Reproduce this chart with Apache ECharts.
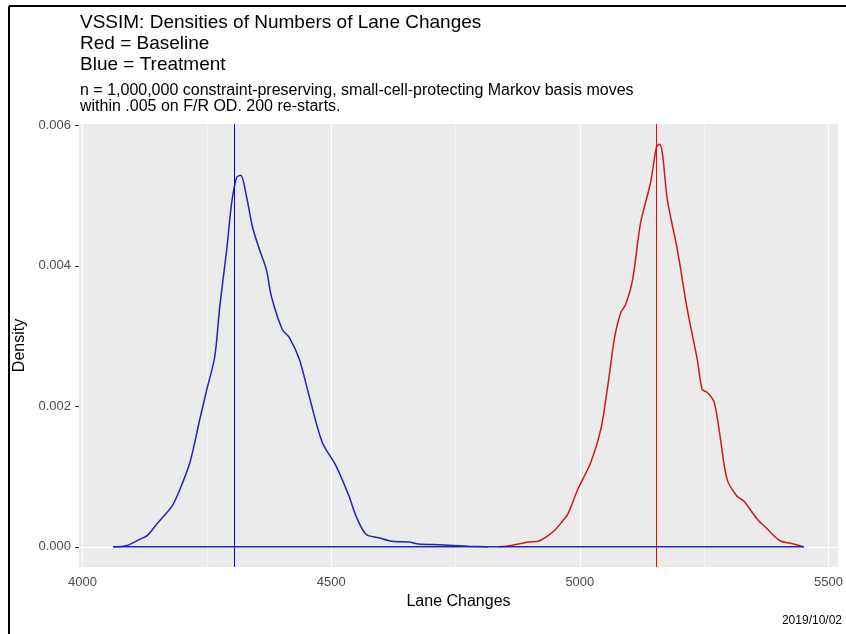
<!DOCTYPE html>
<html lang="en">
<head>
    <meta charset="UTF-8">
    <title>VSSIM lane change densities</title>
    <script src="https://cdn.jsdelivr.net/npm/echarts@6.0.0/dist/echarts.min.js"></script>
    <style>
        html, body { margin: 0; padding: 0; background: #fff; }
        #chart { width: 846px; height: 634px; }
    </style>
</head>
<body>
    <div id="chart"></div>
    <script>
        // treatment (blue) density
        const blueX = [4062, 4090, 4116, 4130, 4150, 4180, 4196, 4216, 4236, 4250, 4266, 4276, 4290, 4300, 4310, 4318,
            4330, 4342, 4356, 4370, 4380, 4402, 4416, 4436, 4456, 4482, 4510, 4536, 4550, 4570, 4596, 4622, 4656,
            4676, 4716, 4776, 4816]
        const blueY = [0, 0.00002, 0.00011, 0.00016, 0.00033, 0.00058, 0.00082, 0.0012, 0.00182, 0.00224, 0.00271, 0.00342, 0.00423, 0.0049, 0.00526, 0.00529,
            0.00498, 0.00455, 0.00423, 0.00394, 0.00356, 0.00309, 0.00298, 0.00267, 0.00214, 0.00149, 0.00115, 0.00072, 0.00044, 0.00018, 0.00013, 0.00008, 0.00007,
            0.00004, 0.00003, 0.00001, 0]

        // baseline (red) density
        const redX = [4836, 4862, 4896, 4916, 4936, 4950, 4962, 4976, 4996, 5022, 5042, 5056, 5070, 5082, 5092, 5106, 5122,
            5142, 5154, 5160, 5166, 5176, 5196, 5216, 5236, 5246, 5256, 5270, 5282, 5296, 5316, 5330, 5356, 5376,
            5402, 5430, 5450]
        const redY = [0, 0.00002, 0.00007, 0.00008, 0.00016, 0.00024, 0.00034, 0.00047, 0.00082, 0.0012, 0.00167, 0.00228, 0.00299, 0.00333, 0.00345, 0.0038, 0.00461,
            0.00518, 0.00569, 0.00573, 0.0056, 0.00494, 0.00423, 0.00338, 0.00267, 0.00224, 0.0022, 0.00206, 0.00157, 0.00096, 0.00072, 0.00065, 0.0004, 0.00026,
            0.00009, 0.00004, 0]

        // zero line under both curves and the two mean lines
        const baseX = [4062, 5450]
        const blueMean = 4306
        const redMean = 5154

        const xTicks = [4000, 4500, 5000, 5500]
        const xMinor = [4250, 4750, 5250]
        const yTicks = [0, 0.002, 0.004, 0.006]
        const yMinor = [0.001, 0.003, 0.005]

        const font = 'Liberation Sans'
        const toPairs = (xs, ys) => xs.map((x, i) => [x, ys[i]])

        // white panel grid, major a bit thicker than minor
        const gridLines = []
        xTicks.forEach(v => gridLines.push({ xAxis: v, lineStyle: { color: '#fff', width: 1.1 } }))
        xMinor.forEach(v => gridLines.push({ xAxis: v, lineStyle: { color: '#fff', width: 0.5 } }))
        yTicks.forEach(v => gridLines.push({ yAxis: v, lineStyle: { color: '#fff', width: 1.1 } }))
        yMinor.forEach(v => gridLines.push({ yAxis: v, lineStyle: { color: '#fff', width: 0.5 } }))

        var myChart = echarts.init(document.getElementById('chart'), null, { renderer: 'canvas' })
        var option = {
            animation: false,
            backgroundColor: '#fff',
            textStyle: { fontFamily: font },
            title: {
                text: 'VSSIM: Densities of Numbers of Lane Changes\nRed = Baseline\nBlue = Treatment',
                subtext: 'n = 1,000,000 constraint-preserving, small-cell-protecting Markov basis moves\nwithin .005 on F/R OD. 200 re-starts.',
                left: 80,
                top: 12,
                padding: 0,
                itemGap: 8,
                textStyle: { fontFamily: font, fontSize: 19, fontWeight: 'normal', color: '#000', lineHeight: 21 },
                subtextStyle: { fontFamily: font, fontSize: 16, color: '#000', lineHeight: 15.5 }
            },
            grid: {
                left: 79, right: 4, top: 124, bottom: 67,
                show: true, backgroundColor: '#EBEBEB', borderWidth: 0
            },
            xAxis: {
                type: 'value',
                min: 3993, max: 5519,
                name: 'Lane Changes',
                nameLocation: 'middle',
                nameGap: 25,
                nameTextStyle: { fontFamily: font, fontSize: 16, color: '#000' },
                axisLine: { show: false },
                axisTick: { show: true, customValues: xTicks, length: 4, lineStyle: { color: '#333' } },
                axisLabel: { customValues: xTicks, margin: 9, fontFamily: font, fontSize: 13, color: '#4D4D4D',
                    formatter: v => String(v) },
                splitLine: { show: false }
            },
            yAxis: {
                type: 'value',
                min: -0.000287, max: 0.00602,
                name: 'Density',
                nameLocation: 'middle',
                nameGap: 43,
                nameTextStyle: { fontFamily: font, fontSize: 16, color: '#000' },
                axisLine: { show: false },
                axisTick: { show: true, customValues: yTicks, length: 4, lineStyle: { color: '#333' } },
                axisLabel: { customValues: yTicks, margin: 8, fontFamily: font, fontSize: 13, color: '#4D4D4D',
                    formatter: v => v.toFixed(3) },
                splitLine: { show: false }
            },
            series: [
                {
                    // panel grid lines
                    type: 'line', data: [], silent: true, z: 1,
                    markLine: {
                        silent: true, symbol: 'none', label: { show: false }, animation: false, z: 1,
                        lineStyle: { color: '#fff', type: 'solid' },
                        data: gridLines
                    }
                },
                {
                    name: 'Baseline', type: 'line', z: 3,
                    data: toPairs(redX, redY),
                    showSymbol: false, smooth: 0.3,
                    itemStyle: { color: '#cc1a1a' },
                    lineStyle: { color: '#cc1a1a', width: 1.5 },
                    markLine: {
                        silent: true, symbol: 'none', label: { show: false }, z: 4,
                        lineStyle: { color: '#ff0000', width: 1, type: 'solid' },
                        data: [{ xAxis: redMean, lineStyle: { color: '#ff0000', width: 1, type: 'solid' } }]
                    }
                },
                {
                    name: 'Treatment', type: 'line', z: 5,
                    data: toPairs(blueX, blueY),
                    showSymbol: false, smooth: 0.3,
                    itemStyle: { color: '#2222b8' },
                    lineStyle: { color: '#2222b8', width: 1.5 },
                    markLine: {
                        silent: true, symbol: 'none', label: { show: false }, z: 6,
                        lineStyle: { color: '#0000ff', width: 1, type: 'solid' },
                        data: [{ xAxis: blueMean, lineStyle: { color: '#0000ff', width: 1, type: 'solid' } }]
                    }
                },
                {
                    name: 'zero', type: 'line', z: 6,
                    data: baseX.map(x => [x, 0]),
                    showSymbol: false,
                    itemStyle: { color: '#2222b8' },
                    lineStyle: { color: '#2222b8', width: 1.5 }
                }
            ],
            graphic: [
                { type: 'line', shape: { x1: 9, y1: 6, x2: 9, y2: 634 }, style: { stroke: '#000', lineWidth: 2 } },
                { type: 'line', shape: { x1: 9, y1: 6, x2: 846, y2: 6 }, style: { stroke: '#000', lineWidth: 2 } },
                { type: 'text', right: 4, top: 615,
                    style: { text: '2019/10/02', fontFamily: font, fontSize: 12, fill: '#000' } }
            ]
        };
        myChart.setOption(option);
    </script>
</body>
</html>
